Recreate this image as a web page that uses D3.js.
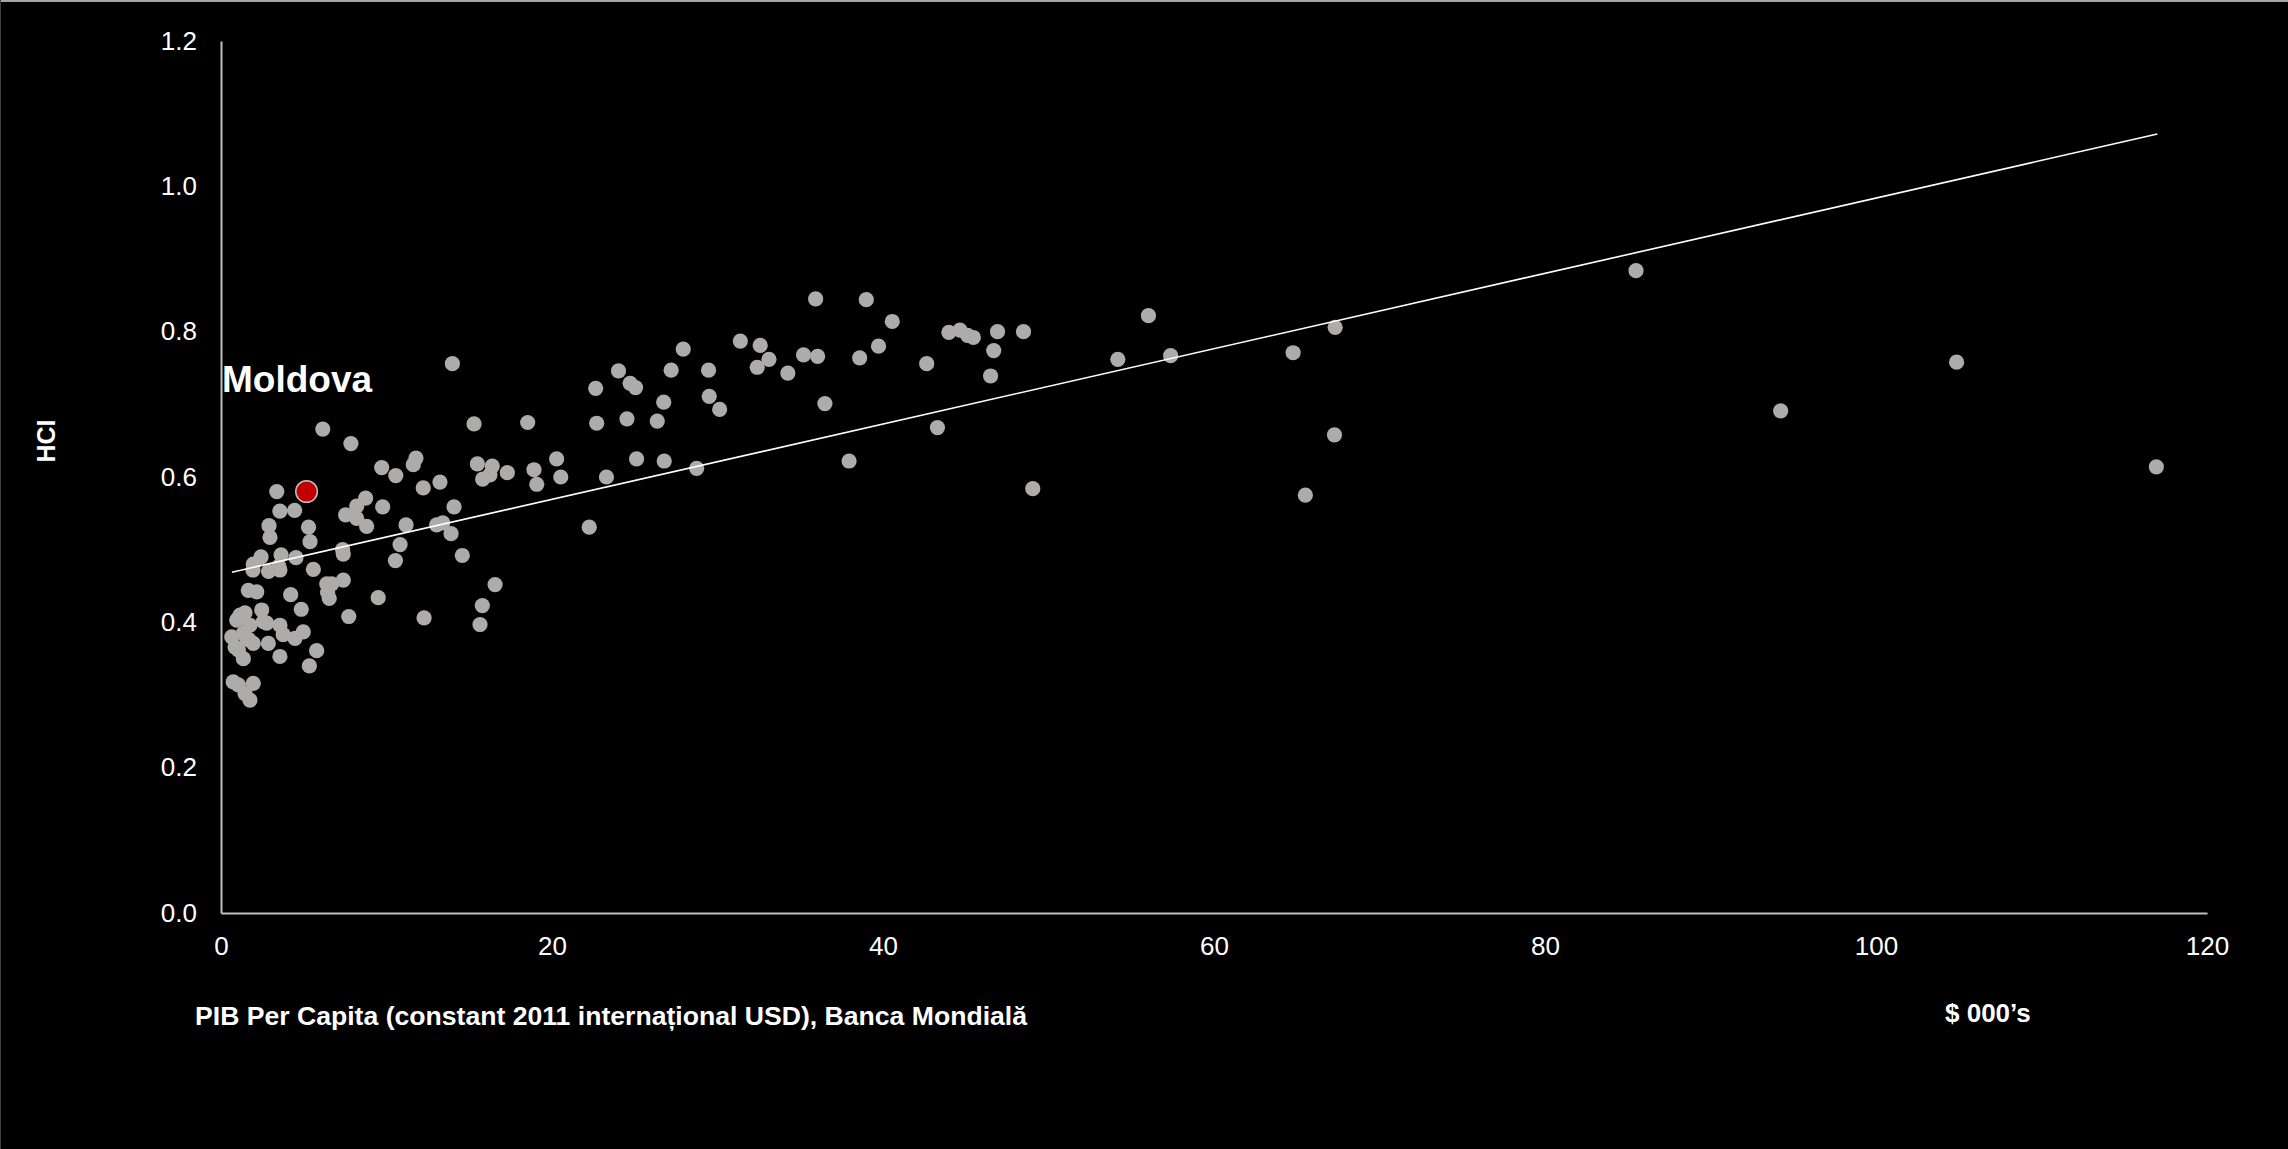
<!DOCTYPE html>
<html>
<head>
<meta charset="utf-8">
<script src="https://cdn.jsdelivr.net/npm/d3@7"></script>
<style>
  html, body { margin: 0; padding: 0; background: #000; }
  svg { display: block; }
</style>
</head>
<body>
<svg id="chart" width="2288" height="1149"></svg>
<script>
// GDP per capita ($ 000's, constant 2011 international USD)
const gdpK = [
  6.15, 7.85, 15.29, 18.53, 22.70, 9.71, 10.56, 11.78, 11.62, 12.22,
  13.23, 15.49, 16.39, 15.81, 16.25, 17.30, 18.91, 19.08, 20.28, 20.53,
  3.37, 3.56, 4.45, 7.53, 8.20, 8.74, 8.20, 8.80, 9.77, 2.90,
  2.96, 5.29, 5.38, 11.18, 13.03, 13.40, 14.08, 13.90, 22.25, 10.82,
  10.54, 14.58, 7.35, 7.39, 2.42, 1.95, 3.63, 3.50, 4.53, 2.87,
  5.58, 7.39, 6.39, 6.54, 6.44, 9.50, 16.56, 15.79, 15.65, 12.27,
  7.72, 1.65, 2.16, 4.21, 4.85, 2.46, 1.15, 1.45, 0.95, 1.75,
  2.76, 3.56, 3.76, 4.47, 4.97, 0.65, 1.55, 1.95, 2.86, 1.05,
  1.35, 3.56, 5.78, 5.34, 0.74, 1.05, 1.95, 1.45, 1.75, 1.35,
  1.05, 2.56, 0.85, 1.70, 1.93, 3.56, 6.69, 13.98,
  35.93, 38.99, 40.56, 31.38, 32.58, 33.11, 32.40, 34.25, 35.20, 36.05,
  38.59, 39.73, 27.93, 24.02, 27.20, 29.46, 22.64, 24.72, 25.05, 26.75,
  29.50, 30.13, 36.49, 24.53, 26.36, 23.29, 25.11, 26.78, 28.74, 37.95,
  43.29, 42.64, 43.98, 44.65, 45.11, 45.46, 46.92, 48.49, 46.69, 46.50,
  49.05,
  85.50, 56.04, 67.32, 64.78, 54.19, 57.38, 104.87, 94.24, 67.28, 116.94, 65.52
];
// Human Capital Index
const hci = [
  0.666, 0.646, 0.673, 0.675, 0.674, 0.613, 0.602, 0.626, 0.617, 0.585,
  0.593, 0.618, 0.615, 0.597, 0.603, 0.606, 0.610, 0.590, 0.625, 0.600,
  0.580, 0.553, 0.554, 0.548, 0.560, 0.571, 0.543, 0.532, 0.559, 0.533,
  0.517, 0.531, 0.511, 0.534, 0.534, 0.537, 0.559, 0.522, 0.531, 0.507,
  0.485, 0.492, 0.500, 0.494, 0.490, 0.480, 0.493, 0.477, 0.489, 0.470,
  0.473, 0.458, 0.453, 0.433, 0.441, 0.434, 0.452, 0.423, 0.397, 0.406,
  0.408, 0.444, 0.442, 0.438, 0.418, 0.417, 0.410, 0.413, 0.403, 0.396,
  0.399, 0.396, 0.383, 0.378, 0.387, 0.380, 0.378, 0.371, 0.371, 0.362,
  0.350, 0.353, 0.361, 0.340, 0.318, 0.314, 0.316, 0.302, 0.293, 0.385,
  0.405, 0.401, 0.366, 0.376, 0.472, 0.472, 0.453, 0.756,
  0.845, 0.844, 0.814, 0.787, 0.781, 0.762, 0.751, 0.743, 0.768, 0.766,
  0.764, 0.780, 0.776, 0.746, 0.747, 0.747, 0.722, 0.729, 0.723, 0.703,
  0.711, 0.693, 0.701, 0.680, 0.677, 0.600, 0.625, 0.622, 0.612, 0.622,
  0.668, 0.756, 0.799, 0.802, 0.795, 0.792, 0.800, 0.800, 0.774, 0.739,
  0.584,
  0.884, 0.822, 0.806, 0.771, 0.762, 0.767, 0.758, 0.691, 0.658, 0.614, 0.575
];
// Highlighted country
const highlightName = ["Moldova"];
const highlightGdp = [5.17];
const highlightHci = [0.580];
// Linear trend line endpoints
const trendGdp = [0.66, 117.0];
const trendHci = [0.469, 1.072];
// Axis ticks
const xTicks = [0, 20, 40, 60, 80, 100, 120];
const yTicks = [0.0, 0.2, 0.4, 0.6, 0.8, 1.0, 1.2];
const xTitle = "PIB Per Capita (constant 2011 internațional USD), Banca Mondială";
const xUnit = "$ 000’s";
const yTitle = "HCI";

const W = 2288, H = 1149;
const FONT = "'Liberation Sans', Arial, Helvetica, sans-serif";
const svg = d3.select("#chart");

svg.append("rect").attr("x", 0).attr("y", 0).attr("width", W).attr("height", H).attr("fill", "#000");
// frame edges
svg.append("line").attr("x1", 0).attr("x2", W).attr("y1", 1).attr("y2", 1)
  .attr("stroke", "#a6a6a6").attr("stroke-width", 2);
svg.append("line").attr("x1", 0.5).attr("x2", 0.5).attr("y1", 0).attr("y2", H)
  .attr("stroke", "#404040").attr("stroke-width", 1);

const x = d3.scaleLinear().domain([0, 120]).range([221, 2207]);
const y = d3.scaleLinear().domain([0, 1.2]).range([913, 41]);

// X axis
const xAxis = svg.append("g").attr("transform", "translate(0,913)")
  .call(d3.axisBottom(x).tickValues(xTicks).tickSize(0).tickPadding(0).tickFormat(d3.format("d")));
xAxis.select(".domain").attr("stroke", "#bfbfbf").attr("stroke-width", 2);
xAxis.selectAll("text").attr("fill", "#fff").attr("font-family", FONT).attr("font-size", 26)
  .attr("dy", null).attr("y", 42);

// Y axis
const yAxis = svg.append("g").attr("transform", "translate(221,0)")
  .call(d3.axisLeft(y).tickValues(yTicks).tickSize(0).tickPadding(24).tickFormat(d3.format(".1f")));
yAxis.select(".domain").attr("stroke", "#bfbfbf").attr("stroke-width", 2);
yAxis.selectAll("text").attr("fill", "#fff").attr("font-family", FONT).attr("font-size", 26);

const pts = gdpK.map((g, i) => ({ g, h: hci[i] }));

// Points
svg.append("g").selectAll("circle").data(pts).join("circle")
  .attr("cx", d => x(d.g)).attr("cy", d => y(d.h)).attr("r", 7.6)
  .attr("fill", "#aeabab");

// Trend line
const trend = trendGdp.map((g, i) => ({ g, h: trendHci[i] }));
svg.append("path").datum(trend)
  .attr("d", d3.line().x(d => x(d.g)).y(d => y(d.h)))
  .attr("stroke", "#ffffff").attr("stroke-width", 1.6).attr("fill", "none");

// Highlight
const hl = highlightGdp.map((g, i) => ({ g, h: highlightHci[i], name: highlightName[i] }));
svg.append("g").selectAll("circle").data(hl).join("circle")
  .attr("cx", d => x(d.g)).attr("cy", d => y(d.h)).attr("r", 10.8)
  .attr("fill", "#c00000").attr("stroke", "#bfbfbf").attr("stroke-width", 1.5);
svg.append("g").selectAll("text").data(hl).join("text")
  .attr("x", 222).attr("y", 392)
  .attr("fill", "#fff").attr("font-family", FONT).attr("font-weight", "bold").attr("font-size", 37)
  .text(d => d.name);

// Titles
svg.append("text").attr("x", 195).attr("y", 1025)
  .attr("fill", "#fff").attr("font-family", FONT).attr("font-weight", "bold").attr("font-size", 26.6)
  .text(xTitle);
svg.append("text").attr("x", 1945).attr("y", 1022)
  .attr("fill", "#fff").attr("font-family", FONT).attr("font-weight", "bold").attr("font-size", 26)
  .text(xUnit);
svg.append("text").attr("transform", "translate(55,441) rotate(-90)")
  .attr("text-anchor", "middle")
  .attr("fill", "#fff").attr("font-family", FONT).attr("font-weight", "bold").attr("font-size", 25)
  .text(yTitle);
</script>
</body>
</html>
